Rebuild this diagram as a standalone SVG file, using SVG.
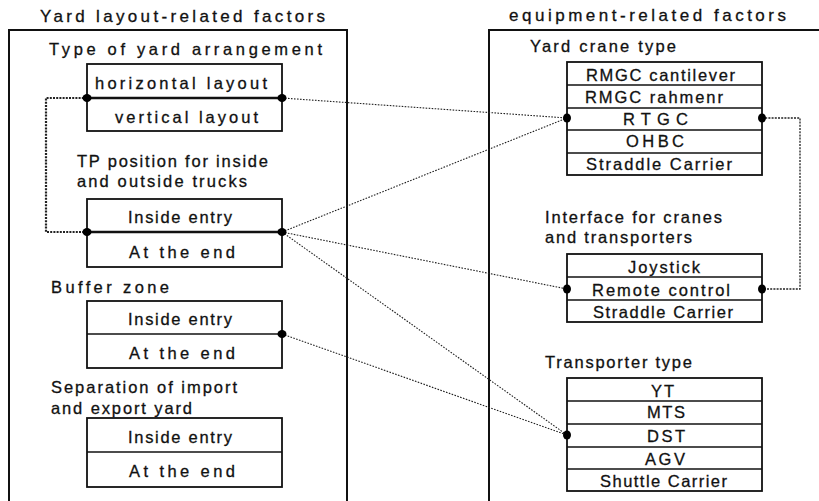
<svg xmlns="http://www.w3.org/2000/svg" width="819" height="501" viewBox="0 0 819 501">
<style>
text{font-family:"Liberation Sans",Arial,sans-serif;fill:#111;stroke:#111;stroke-width:0.3;}
.t{font-size:17px;}
.g{font-size:16.5px;}
.i{font-size:16.5px;}
.r{font-size:16.5px;}
.frame{fill:none;stroke:#111;stroke-width:2;}
.box{fill:#fff;stroke:#111;stroke-width:1.8;}
.div{stroke:#111;stroke-width:1.6;}
.dot{fill:#000;}
.link{fill:none;stroke:#222;stroke-width:1.1;stroke-dasharray:1.6 1.4;}
.loop{fill:none;stroke:#222;stroke-width:2.2;stroke-dasharray:2 1.2;}
</style>
<rect width="819" height="501" fill="#fff"/>

<g id="yard-panel">
<text class="t" x="40" y="22" textLength="285" lengthAdjust="spacing">Yard layout-related factors</text>
<rect class="frame" x="9" y="30" width="338" height="490"/>
</g>

<g id="equip-panel">
<text class="t" x="509" y="21" textLength="277" lengthAdjust="spacing">equipment-related factors</text>
<rect class="frame" x="489" y="30" width="350" height="490"/>
</g>

<g id="connectors">
<path class="loop" d="M87,98 H46 V232 H87"/>
<path class="loop" d="M762,118 H800 V289 H762" style="stroke-width:1.3"/>
<line class="link" x1="282" y1="98" x2="567" y2="118"/>
<line class="link" x1="282" y1="232" x2="567" y2="118"/>
<line class="link" x1="282" y1="232" x2="567" y2="289"/>
<line class="link" x1="282" y1="232" x2="567" y2="435"/>
<line class="link" x1="282" y1="334" x2="567" y2="435"/>
</g>

<g id="yard-arrangement">
<text class="g" x="49" y="55" textLength="273" lengthAdjust="spacing">Type of yard arrangement</text>
<rect class="box" x="87" y="64" width="195" height="67"/>
<line class="div" x1="87" y1="98" x2="282" y2="98" style="stroke-width:2.4"/>
<text class="g" x="95" y="89" textLength="172" lengthAdjust="spacing">horizontal layout</text>
<text class="g" x="115" y="123" textLength="143" lengthAdjust="spacing">vertical layout</text>
</g>

<g id="tp-position">
<text class="g" x="77" y="167" textLength="191" lengthAdjust="spacing">TP position for inside</text>
<text class="g" x="77" y="187" textLength="170" lengthAdjust="spacing">and outside trucks</text>
<rect class="box" x="87" y="199" width="195" height="68"/>
<line class="div" x1="87" y1="232" x2="282" y2="232" style="stroke-width:2.4"/>
<text class="i" x="128" y="223" textLength="104" lengthAdjust="spacing">Inside entry</text>
<text class="g" x="129" y="258" textLength="106" lengthAdjust="spacing">At the end</text>
</g>

<g id="buffer-zone">
<text class="g" x="51" y="293" textLength="118" lengthAdjust="spacing">Buffer zone</text>
<rect class="box" x="87" y="301" width="195" height="67"/>
<line class="div" x1="87" y1="334" x2="282" y2="334"/>
<text class="i" x="128" y="325" textLength="104" lengthAdjust="spacing">Inside entry</text>
<text class="g" x="129" y="359" textLength="106" lengthAdjust="spacing">At the end</text>
</g>

<g id="separation">
<text class="g" x="51" y="393" textLength="186" lengthAdjust="spacing">Separation of import</text>
<text class="g" x="51" y="414" textLength="141" lengthAdjust="spacing">and export yard</text>
<rect class="box" x="87" y="418" width="195" height="69"/>
<line class="div" x1="87" y1="452" x2="282" y2="452"/>
<text class="i" x="128" y="443" textLength="104" lengthAdjust="spacing">Inside entry</text>
<text class="g" x="129" y="477" textLength="106" lengthAdjust="spacing">At the end</text>
</g>

<g id="yard-crane-type">
<text class="g" x="530" y="52" textLength="146" lengthAdjust="spacing">Yard crane type</text>
<rect class="box" x="567" y="62" width="195" height="113"/>
<line class="div" x1="567" y1="85" x2="762" y2="85"/>
<line class="div" x1="567" y1="108" x2="762" y2="108"/>
<line class="div" x1="567" y1="130" x2="762" y2="130"/>
<line class="div" x1="567" y1="153" x2="762" y2="153"/>
<text class="r" x="586" y="81" textLength="149" lengthAdjust="spacing">RMGC cantilever</text>
<text class="r" x="585" y="103" textLength="138" lengthAdjust="spacing">RMGC rahmenr</text>
<text class="r" x="623" y="125" textLength="65" lengthAdjust="spacing">RTGC</text>
<text class="r" x="626" y="147" textLength="58" lengthAdjust="spacing">OHBC</text>
<text class="r" x="586" y="170" textLength="146" lengthAdjust="spacing">Straddle Carrier</text>
</g>

<g id="interface">
<text class="g" x="545" y="223" textLength="177" lengthAdjust="spacing">Interface for cranes</text>
<text class="g" x="545" y="243" textLength="147" lengthAdjust="spacing">and transporters</text>
<rect class="box" x="567" y="254" width="195" height="68"/>
<line class="div" x1="567" y1="277" x2="762" y2="277"/>
<line class="div" x1="567" y1="300" x2="762" y2="300"/>
<text class="r" x="628" y="273" textLength="72" lengthAdjust="spacing">Joystick</text>
<text class="r" x="592" y="296" textLength="138" lengthAdjust="spacing">Remote control</text>
<text class="r" x="593" y="318" textLength="140" lengthAdjust="spacing">Straddle Carrier</text>
</g>

<g id="transporter-type">
<text class="g" x="545" y="368" textLength="147" lengthAdjust="spacing">Transporter type</text>
<rect class="box" x="567" y="378" width="195" height="113"/>
<line class="div" x1="567" y1="401" x2="762" y2="401"/>
<line class="div" x1="567" y1="424" x2="762" y2="424"/>
<line class="div" x1="567" y1="447" x2="762" y2="447"/>
<line class="div" x1="567" y1="469" x2="762" y2="469"/>
<text class="r" x="651" y="397" textLength="23" lengthAdjust="spacing">YT</text>
<text class="r" x="647" y="418" textLength="38" lengthAdjust="spacing">MTS</text>
<text class="r" x="647" y="442" textLength="38" lengthAdjust="spacing">DST</text>
<text class="r" x="645" y="465" textLength="40" lengthAdjust="spacing">AGV</text>
<text class="r" x="600" y="487" textLength="127" lengthAdjust="spacing">Shuttle Carrier</text>
</g>

<g id="dots">
<ellipse class="dot" cx="87" cy="98" rx="4.5" ry="4"/>
<ellipse class="dot" cx="282" cy="98" rx="4.5" ry="4"/>
<ellipse class="dot" cx="87" cy="232" rx="4.5" ry="4"/>
<ellipse class="dot" cx="282" cy="232" rx="4.5" ry="4"/>
<ellipse class="dot" cx="282" cy="334" rx="4.5" ry="4"/>
<ellipse class="dot" cx="567" cy="118" rx="4" ry="4.5"/>
<ellipse class="dot" cx="762" cy="118" rx="4" ry="4.5"/>
<ellipse class="dot" cx="567" cy="289" rx="4" ry="4.5"/>
<ellipse class="dot" cx="762" cy="289" rx="4" ry="4.5"/>
<ellipse class="dot" cx="567" cy="435" rx="4" ry="4.5"/>
</g>
</svg>
